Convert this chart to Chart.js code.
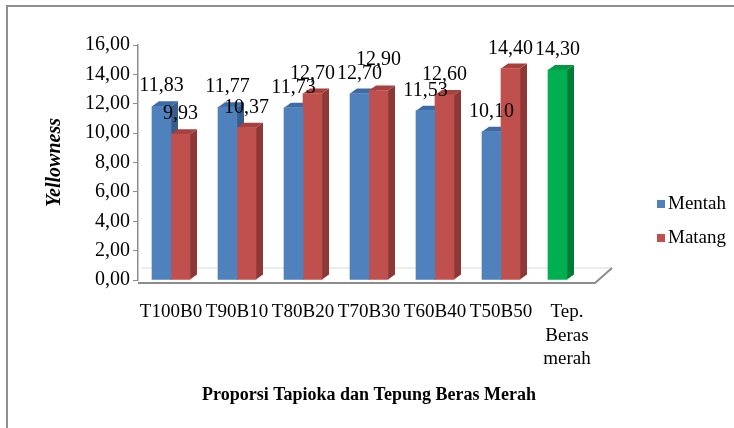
<!DOCTYPE html>
<html>
<head>
<meta charset="utf-8">
<script src="https://cdn.jsdelivr.net/npm/chart.js@4.4.0/dist/chart.umd.min.js"></script>
<style>
    body { margin: 0; background: #fff; }
    #wrap { position: relative; width: 734px; height: 428px; overflow: hidden; }
    #frame { position: absolute; left: 6px; top: 5px; width: 740px; height: 440px;
             border-left: 2px solid #8f8f8f; border-top: 2px solid #8f8f8f; pointer-events: none; }
    #legend { position: absolute; left: 657px; top: 189px; font-family: 'Liberation Serif', serif;
              font-size: 19px; color: #000; }
    #legend div { height: 34px; line-height: 28px; white-space: nowrap; }
    #legend span { display: inline-block; width: 8px; height: 8px; margin-right: 3px; vertical-align: 1px; }
</style>
</head>
<body>
<div id="wrap">
    <canvas id="chart" width="734" height="428"></canvas>
    <div id="frame"></div>
    <div id="legend"></div>
</div>
<script>
const categories = ['T100B0', 'T90B10', 'T80B20', 'T70B30', 'T60B40', 'T50B50', ['Tep.', 'Beras', 'merah']];
const mentah = [11.83, 11.77, 11.73, 12.70, 11.53, 10.10, 14.30];
const matang = [9.93, 10.37, 12.70, 12.90, 12.60, 14.40, null];

const DEPTH_X = 7;
const DEPTH_Y = 5;
const fmt = v => v.toFixed(2).replace('.', ',');
const pick = (c, j) => Array.isArray(c) ? c[j] : c;

// side + top faces and the floor, drawn before the front faces
const bars3d = {
    id: 'bars3d',
    beforeDatasetsDraw(chart) {
        const ctx = chart.ctx;
        const { left, right, bottom } = chart.chartArea;
        ctx.save();
        ctx.lineWidth = 1;
        ctx.strokeStyle = '#d9d9d9';
        ctx.beginPath();
        ctx.moveTo(left + 3, bottom - 12);
        ctx.lineTo(right + 12, bottom - 12);
        ctx.stroke();
        ctx.lineWidth = 2;
        ctx.strokeStyle = '#8c8c8c';
        ctx.beginPath();
        ctx.moveTo(left, bottom + 3);
        ctx.lineTo(right - 5, bottom + 3);
        ctx.lineTo(right + 12, bottom - 12);
        ctx.stroke();

        chart.data.datasets.forEach((ds, i) => {
            chart.getDatasetMeta(i).data.forEach((bar, j) => {
                if (ds.data[j] == null) return;
                const p = bar.getProps(['x', 'y', 'base', 'width'], true);
                const x0 = p.x - p.width / 2, x1 = p.x + p.width / 2;
                ctx.fillStyle = pick(ds.sideColor, j);
                ctx.beginPath();
                ctx.moveTo(x1, p.y);
                ctx.lineTo(x1 + DEPTH_X, p.y - DEPTH_Y);
                ctx.lineTo(x1 + DEPTH_X, p.base - DEPTH_Y);
                ctx.lineTo(x1, p.base);
                ctx.closePath();
                ctx.fill();
                ctx.fillStyle = pick(ds.topColor, j);
                ctx.beginPath();
                ctx.moveTo(x0, p.y);
                ctx.lineTo(x0 + DEPTH_X, p.y - DEPTH_Y);
                ctx.lineTo(x1 + DEPTH_X, p.y - DEPTH_Y);
                ctx.lineTo(x1, p.y);
                ctx.closePath();
                ctx.fill();
            });
        });
        ctx.restore();
    }
};

// value labels above bars; a label that would sit on top of its neighbour is lifted
const valueLabels = {
    id: 'valueLabels',
    afterDatasetsDraw(chart) {
        const ctx = chart.ctx;
        ctx.save();
        ctx.font = '20px "Liberation Serif"';
        ctx.fillStyle = '#000';
        ctx.textAlign = 'center';
        ctx.textBaseline = 'middle';
        const first = chart.getDatasetMeta(0).data;
        chart.data.datasets.forEach((ds, i) => {
            chart.getDatasetMeta(i).data.forEach((bar, j) => {
                if (ds.data[j] == null) return;
                let y = bar.y - 20;
                if (i > 0 && Math.abs(first[j].y - bar.y) < 6) y -= 11;
                ctx.fillText(fmt(ds.data[j]), bar.x, y);
            });
        });
        ctx.restore();
    }
};

const datasets = [
    {
        label: 'Mentah', data: mentah,
        backgroundColor: ['#4F81BD', '#4F81BD', '#4F81BD', '#4F81BD', '#4F81BD', '#4F81BD', '#00B050'],
        topColor: ['#3D6BA6', '#3D6BA6', '#3D6BA6', '#3D6BA6', '#3D6BA6', '#3D6BA6', '#009A45'],
        sideColor: ['#385D8A', '#385D8A', '#385D8A', '#385D8A', '#385D8A', '#385D8A', '#007A36']
    },
    { label: 'Matang', data: matang, backgroundColor: '#C0504D', topColor: '#A8403D', sideColor: '#8C3836' }
];

document.getElementById('legend').innerHTML = datasets
    .map(d => `<div><span style="background:${pick(d.backgroundColor, 0)}"></span>${d.label}</div>`).join('');

new Chart(document.getElementById('chart'), {
    type: 'bar',
    data: { labels: categories, datasets: datasets },
    options: {
        responsive: false,
        animation: false,
        devicePixelRatio: 1,
        barThickness: 19,
        layout: { padding: { top: 45, right: 134, left: 0, bottom: 0 } },
        plugins: { legend: { display: false }, tooltip: { enabled: false } },
        scales: {
            x: {
                grid: { display: false },
                border: { display: false },
                afterFit: scale => { scale.height = 148; },
                ticks: {
                    autoSkip: false, maxRotation: 0, padding: 12, color: '#000',
                    font: { family: 'Liberation Serif', size: 19, lineHeight: 1.25 }
                },
                title: {
                    display: true, text: 'Proporsi Tapioka dan Tepung Beras Merah', color: '#000',
                    font: { family: 'Liberation Serif', size: 18, weight: 'bold' },
                    padding: { top: 0, bottom: 22 }
                }
            },
            y: {
                min: 0, max: 16,
                afterFit: scale => { scale.width = 138; },
                grid: { drawOnChartArea: false, drawTicks: true, tickLength: 5, color: '#8c8c8c' },
                border: { display: true, color: '#8c8c8c', width: 1.5 },
                ticks: {
                    stepSize: 2, padding: 3, color: '#000',
                    font: { family: 'Liberation Serif', size: 20 },
                    callback: v => fmt(v)
                },
                title: {
                    display: true, text: 'Yellowness', color: '#000',
                    font: { family: 'Liberation Serif', size: 20, weight: 'bold', style: 'italic' },
                    padding: { top: 43, bottom: 0 }
                }
            }
        }
    },
    plugins: [bars3d, valueLabels]
});
</script>
</body>
</html>
